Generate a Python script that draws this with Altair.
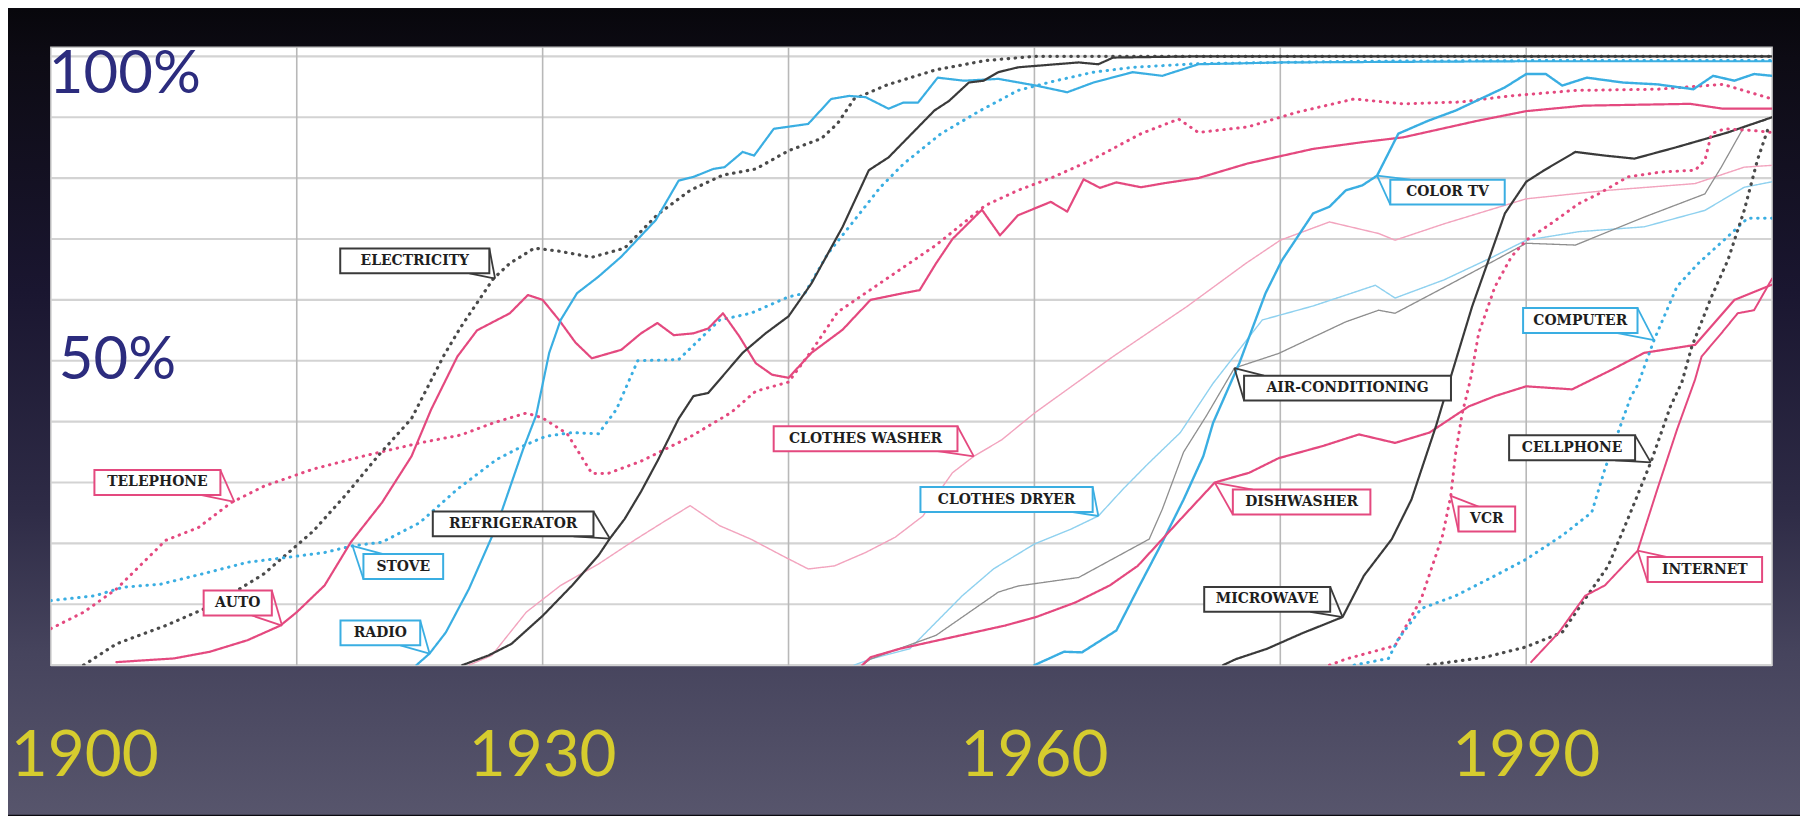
import altair as alt
import pandas as pd

# ---------------- data (year, % of households) ----------------
ELECTRICITY = [(1902, 0), (1904, 3.5), (1907, 6.5), (1910, 10), (1913, 15), (1916, 22), (1918, 28),
               (1920, 34.5), (1922, 40.5), (1924, 51), (1925, 55.5), (1927, 63.5), (1928, 66),
               (1929.5, 68.5), (1931, 68), (1933, 67), (1935, 68.5), (1937, 74), (1939, 78),
               (1941, 80.5), (1943, 81.5), (1945, 84.5), (1947, 86.5), (1948, 89), (1949, 93),
               (1951, 95.3), (1954, 97.8), (1957, 99.3), (1960, 100), (1975, 100), (1990, 100), (2005, 100)]
TELEPHONE = [(1900, 6), (1902, 8.7), (1904, 12.5), (1907, 20.5), (1909, 22.6), (1911, 26.7), (1913, 29.4),
             (1916, 32.2), (1919, 34.3), (1922.5, 36.5), (1925, 37.8), (1927, 39.8), (1929, 41.4),
             (1930, 40.6), (1931.5, 38), (1933, 31.5), (1934, 31.5), (1936, 33.5), (1939, 37.5),
             (1941.5, 41.5), (1943, 45), (1945, 46.5), (1946.5, 52), (1948, 58), (1951, 63.5),
             (1954, 69), (1957, 75.5), (1959, 78), (1961, 80), (1963.5, 83), (1966.5, 87.3),
             (1968.8, 89.7), (1970, 87.5), (1973, 88.4), (1976, 90.8), (1979.5, 93), (1982.5, 92.2),
             (1986, 92.5), (1989, 93.5), (1993, 94.4), (1998, 94.6), (2002, 95.4), (2005, 93)]
AUTO = [(1904, 0.5), (1907.5, 1.1), (1909.7, 2.2), (1912, 4.1), (1914, 6.5), (1915, 8.7), (1916.7, 13.1),
        (1918.3, 20.2), (1920.2, 26.7), (1922, 34.3), (1923.2, 42), (1924.8, 50.7), (1926, 55),
        (1928, 57.8), (1929.1, 60.8), (1930, 60), (1931, 56.7), (1932, 53), (1933, 50.4),
        (1934.8, 51.8), (1936, 54.5), (1937, 56.2), (1938, 54.2), (1939.2, 54.5), (1940.1, 55.3),
        (1941, 57.8), (1942, 54), (1943, 49.6), (1944, 47.7), (1945, 47.2), (1946.4, 51.3),
        (1948.3, 55.1), (1950, 60), (1952, 61.1), (1953, 61.6), (1954, 66), (1955, 70),
        (1956.8, 74.8), (1957.9, 70.6), (1959, 73.9), (1960, 75), (1961, 76.1), (1962, 74.5),
        (1963, 79.8), (1964, 78.4), (1965, 79.3), (1966.5, 78.5), (1968, 79.2), (1970, 80),
        (1973, 82.4), (1977, 84.8), (1980, 85.9), (1982.5, 86.7), (1987, 89.4), (1990, 91),
        (1993.5, 91.9), (2000, 92.2), (2002, 91.4), (2005, 91.4)]
STOVE = [(1900, 10.6), (1902.7, 11.4), (1904.4, 12.8), (1906.7, 13.3), (1909.7, 15.3), (1912, 16.9),
         (1914.4, 17.7), (1916.7, 18.5), (1918.4, 19.6), (1920.2, 20.2), (1922.5, 23.4), (1924.8, 28.9),
         (1927.2, 33.8), (1928.8, 36), (1930.2, 37.6), (1931.8, 38.2), (1933.4, 38), (1934.5, 42),
         (1935.8, 50), (1938.3, 50.2), (1940.8, 56.7), (1942.7, 57.8), (1945, 60.5), (1946, 61.1),
         (1947.4, 67.6), (1948.7, 72), (1950.6, 78.5), (1952, 82.3), (1954.3, 87.3), (1956.7, 91.1),
         (1959, 94.4), (1961.3, 96), (1963.6, 97.4), (1966, 98.2), (1970, 98.8), (1980, 99.2),
         (1990, 99.3), (2005, 99.3)]
RADIO = [(1922.3, 0), (1923.1, 1.9), (1924.1, 5.4), (1925.5, 12.5), (1927.2, 22.9), (1928.8, 35.4),
         (1929.6, 41), (1930.4, 51.3), (1931.1, 56.7), (1932.1, 61.1), (1933.4, 63.8), (1934.8, 67.1),
         (1936.9, 73.1), (1938.3, 79.6), (1939.2, 80.2), (1940.4, 81.5), (1941.1, 81.8), (1942.2, 84.3),
         (1942.9, 83.7), (1944.1, 88.1), (1946.2, 88.9), (1947.6, 93), (1948.7, 93.5), (1949.7, 93.3),
         (1951.1, 91.4), (1952, 92.4), (1952.9, 92.4), (1954.1, 96.5), (1955.7, 96), (1957.8, 96.3),
         (1960.1, 95.2), (1962, 94.1), (1963.6, 95.7), (1966, 97.4), (1967.8, 96.8), (1970, 98.7),
         (1975, 99), (1990, 99.2), (2005, 99.2)]
REFRIGERATOR = [(1925.1, 0), (1926.7, 1.6), (1928.1, 3.5), (1930, 8.1), (1931.8, 13.1), (1933.4, 18),
                (1934.1, 20.8), (1935, 24), (1936, 28.5), (1937, 33.5), (1938.3, 40.5), (1939.2, 44.2),
                (1940.1, 44.7), (1942.2, 51.3), (1943.6, 54.5), (1945, 57.3), (1946.4, 62.7), (1948.3, 72),
                (1949.9, 81.3), (1951.1, 83.4), (1952.7, 87.8), (1953.9, 91.1), (1954.8, 92.7), (1956, 95.7),
                (1956.9, 96), (1957.8, 97.4), (1959, 98.2), (1961.3, 98.7), (1962.7, 99), (1963.9, 98.7),
                (1964.8, 99.8), (1970, 100), (2005, 100)]
CLOTHES_WASHER = [(1925.5, 0), (1926.9, 1.6), (1929, 8.7), (1931.1, 13.1), (1933.4, 16.6), (1935.7, 20.7),
                  (1937.3, 23.4), (1939, 26.2), (1940.8, 22.9), (1942.7, 20.7), (1944.6, 18), (1946.2, 15.8),
                  (1947.8, 16.3), (1949.7, 18.5), (1951.5, 21), (1953.2, 24.5), (1954, 27.8), (1955, 31.6),
                  (1956.3, 34.3), (1958, 37), (1960, 41.4), (1964.8, 50.7), (1969.3, 58.9), (1972.9, 66),
                  (1975, 69.8), (1978, 72.8), (1981, 70.9), (1982, 69.8), (1985, 72.5), (1990, 76.6),
                  (1995, 78), (2000.3, 79.1), (2003.3, 81.8), (2005, 82.1)]
CLOTHES_DRYER = [(1949, 0), (1950, 1), (1952.4, 2.7), (1955.6, 11.4), (1957.5, 15.8), (1960, 19.9),
                 (1962.2, 22.3), (1963.9, 24.5), (1965.4, 28.9), (1966.9, 33), (1968.9, 38.2),
                 (1970.9, 46.3), (1973.9, 56.7), (1977, 59), (1980.8, 62.4), (1982, 60.3), (1985, 63.3),
                 (1988, 67.1), (1990, 69.8), (1993.2, 71.2), (1997.2, 72), (2000.9, 74.7), (2003.3, 78.5),
                 (2005, 79.4)]
AIR_CONDITIONING = [(1949.5, 0), (1950, 1), (1954, 4.9), (1957.8, 12), (1959, 13), (1962.7, 14.4),
                    (1967, 20.7), (1967.8, 25.6), (1969.1, 35), (1970.5, 41), (1972.2, 48.8), (1974.9, 51.2),
                    (1979, 56.4), (1981, 58.3), (1982, 57.8), (1985.1, 62.2), (1988.1, 66.5), (1990, 69.3),
                    (1993, 69), (1997.2, 73.6), (2000.9, 77.4), (2001.9, 81.8), (2003.3, 88.5), (2004.6, 89.5)]
COLOR_TV = [(1960, 0), (1961.8, 2.2), (1962.9, 2.1), (1965, 5.7), (1966.3, 12.5), (1967.8, 20.2),
            (1969.1, 27.2), (1970.3, 34.3), (1970.9, 39.8), (1972.5, 49.6), (1974.1, 61.1), (1975.1, 66.5),
            (1977, 74.2), (1978, 75.3), (1979, 78), (1980, 78.8), (1980.9, 80.4), (1982.2, 87.3),
            (1984, 89.4), (1985.7, 91.1), (1988.7, 94.9), (1990, 97.1), (1991.2, 97.1), (1992.2, 95.2),
            (1993.7, 96.5), (1995.9, 95.7), (1998, 95.4), (2000.2, 94.6), (2001.4, 96.8), (2002.7, 96),
            (2003.9, 97.1), (2005, 96.8)]
DISHWASHER = [(1949.5, 0), (1950, 1.3), (1951.8, 2.7), (1955, 4.6), (1958.2, 6.5), (1960.1, 7.9),
              (1962.5, 10.3), (1964.6, 13.1), (1966.3, 16.3), (1967.8, 20.7), (1969.1, 24.5), (1971, 30),
              (1973.1, 31.6), (1974.9, 34), (1977.6, 36), (1979.8, 37.9), (1982, 36.5), (1984.1, 38.2),
              (1986.5, 42.5), (1988.1, 44.2), (1990, 45.8), (1992.8, 45.3), (1995.2, 48.5), (1997.2, 51.3),
              (2000.3, 52.6), (2002.7, 60), (2005, 62.5)]
MICROWAVE = [(1971.5, 0), (1972.3, 1), (1974.2, 2.7), (1976.3, 5.2), (1978.8, 7.9), (1980.1, 14.7),
             (1981.8, 20.7), (1983, 27.2), (1984.5, 39.3), (1985.1, 44.7), (1986.7, 58.9), (1987.7, 66.5),
             (1988.7, 74.2), (1990, 79.4), (1991.1, 81.3), (1993, 84.3), (1994.8, 83.7), (1996.6, 83.2),
             (1999.2, 85.1), (2002.3, 87.5), (2005, 90)]
VCR = [(1978, 0), (1979, 1), (1982, 3.2), (1983.6, 10.9), (1984.9, 21.3), (1985.4, 27.8), (1985.7, 34.9),
       (1986.1, 41.4), (1986.6, 46.9), (1987.1, 54.5), (1988.1, 62.2), (1989.1, 67.1), (1990, 69.8),
       (1991.5, 72.5), (1993.2, 75.8), (1994.4, 77.4), (1996.2, 80.2), (1998.2, 81), (2000.3, 81.3),
       (2000.9, 82.9), (2001.3, 87.3), (2002.1, 88.1), (2003.9, 87.8), (2005, 87.5)]
COMPUTER = [(1979.5, 0), (1981.6, 1.1), (1982.2, 4.3), (1983.6, 9.3), (1985.7, 11.4), (1988.1, 14.7),
            (1990, 17.4), (1992.2, 21.3), (1994, 25.1), (1994.8, 32.2), (1995.6, 38.2), (1996.4, 44.2),
            (1996.8, 46), (1997.8, 53.4), (1999.2, 62.2), (2000.5, 66), (2002.3, 70.4), (2003.5, 73.4),
            (2005, 73.4)]
CELLPHONE = [(1984, 0), (1987.5, 1.3), (1990, 3), (1992.2, 5.4), (1993.6, 10.9), (1995, 16.3),
             (1996.2, 24), (1997.6, 33.3), (1998.8, 42.5), (1999.5, 46.5), (2000.1, 52.3), (2001.3, 60.5),
             (2002.3, 66.5), (2003.3, 74.7), (2004.1, 82.9), (2004.8, 88.5)]
INTERNET = [(1990.3, 0.5), (1992, 5.4), (1993.6, 11.4), (1994.8, 13.1), (1996.8, 18.8), (1998, 28.9),
            (1999.2, 38.7), (2000.3, 46.9), (2000.7, 50.7), (2001.9, 54.5), (2002.9, 57.8), (2003.9, 58.3),
            (2005, 63.5)]

# tick values and tick labels
X_LABEL_YEARS = [1900, 1930, 1960, 1990]
V_GRID = [1915, 1930, 1945, 1960, 1975, 1990]
H_GRID = [0, 10, 20, 30, 40, 50, 60, 70, 80, 90, 100]
Y_LABELS = [100, 50]
Y_LABEL_TEXT = ["100%", "50%"]

# callout labels (text, box centre, point on the curve)
LABEL_TEXT = ["ELECTRICITY", "TELEPHONE", "AUTO", "STOVE", "RADIO", "REFRIGERATOR", "CLOTHES WASHER",
              "CLOTHES DRYER", "AIR-CONDITIONING", "COLOR TV", "COMPUTER", "DISHWASHER", "VCR",
              "CELLPHONE", "MICROWAVE", "INTERNET"]
LABEL_X = [1922.2, 1906.5, 1911.4, 1921.5, 1920.1, 1928.2, 1949.7, 1958.3, 1979.1, 1985.2, 1993.3,
           1976.3, 1987.6, 1992.8, 1974.2, 2000.9]
LABEL_Y = [66.4, 30.0, 10.2, 16.2, 5.3, 23.2, 37.2, 27.2, 45.5, 77.7, 56.6, 26.8, 24.0, 35.7, 10.8, 15.7]
ANCHOR_X = [1927.1, 1911.2, 1914.1, 1918.4, 1923.1, 1934.1, 1956.3, 1963.9, 1972.2, 1980.9, 1997.8,
            1971.0, 1985.4, 1997.6, 1978.8, 1996.8]
ANCHOR_Y = [63.5, 26.8, 6.5, 19.6, 1.9, 20.8, 34.3, 24.5, 48.8, 80.4, 53.4, 30.0, 27.8, 33.3, 7.9, 18.8]

# ---------------- styles / layout ----------------
PINK, BLUE, BLACK = "#e4497f", "#3aaee2", "#3a3a3a"
LPINK, LBLUE, GRAY = "#f2a4be", "#8fd1ef", "#8e8e8e"
SOLID, DOT = [1, 0], [0.5, 6.5]

SERIES = [
    ("Telephone", TELEPHONE, PINK, DOT, 3.0),
    ("Electricity", ELECTRICITY, "#4a4a4a", DOT, 3.2),
    ("Stove", STOVE, BLUE, DOT, 3.0),
    ("Clothes washer", CLOTHES_WASHER, LPINK, SOLID, 1.4),
    ("Clothes dryer", CLOTHES_DRYER, LBLUE, SOLID, 1.4),
    ("Air-conditioning", AIR_CONDITIONING, GRAY, SOLID, 1.3),
    ("Auto", AUTO, PINK, SOLID, 2.2),
    ("Radio", RADIO, BLUE, SOLID, 2.2),
    ("Refrigerator", REFRIGERATOR, BLACK, SOLID, 2.2),
    ("Color TV", COLOR_TV, BLUE, SOLID, 2.4),
    ("Dishwasher", DISHWASHER, PINK, SOLID, 2.2),
    ("Microwave", MICROWAVE, BLACK, SOLID, 2.2),
    ("VCR", VCR, PINK, DOT, 3.0),
    ("Computer", COMPUTER, BLUE, DOT, 3.0),
    ("Cellphone", CELLPHONE, "#4a4a4a", DOT, 3.2),
    ("Internet", INTERNET, PINK, SOLID, 2.0),
]
LABEL_COLORS = [BLACK, PINK, PINK, BLUE, BLUE, BLACK, PINK, BLUE, BLACK, BLUE, BLUE, PINK, PINK,
                BLACK, BLACK, PINK]

X0, X1 = 1900, 2005
Y0, Y1 = 0, 101.5
W, H = 1727, 620
PAD = {"left": 43, "top": 38, "right": 28, "bottom": 150}
PXY = W / (X1 - X0)   # px per year
PPP = H / (Y1 - Y0)   # px per percent

NUM_FONT = "Lato, DejaVu Sans Condensed, sans-serif"
YEAR_COLOR = "#d6cc2e"
PCT_COLOR = "#2c2c7e"

xs = alt.Scale(domain=[X0, X1], nice=False, zero=False)
ys = alt.Scale(domain=[Y0, Y1], nice=False, zero=False)
one = pd.DataFrame({"a": [0]})

layers = []

# page background gradient
grad = alt.LinearGradient(
    gradient="linear", x1=0, x2=0, y1=0, y2=1,
    stops=[alt.GradientStop(color="#08070c", offset=0),
           alt.GradientStop(color="#0d0b14", offset=0.06),
           alt.GradientStop(color="#1a1630", offset=0.35),
           alt.GradientStop(color="#2e2b46", offset=0.62),
           alt.GradientStop(color="#46445d", offset=0.8),
           alt.GradientStop(color="#57556c", offset=1)])
layers.append(alt.Chart(one).mark_rect(fill=grad).encode(
    x=alt.value(-PAD["left"]), x2=alt.value(W + PAD["right"]),
    y=alt.value(-PAD["top"]), y2=alt.value(H + PAD["bottom"])))

# white plot panel
layers.append(alt.Chart(one).mark_rect(fill="white", stroke="#c8c8c8", strokeWidth=1.5).encode(
    x=alt.value(0), x2=alt.value(W), y=alt.value(0), y2=alt.value(H)))

# grid
layers.append(alt.Chart(pd.DataFrame({"v": H_GRID})).mark_rule(color="#d3d3d3", strokeWidth=2.2).encode(
    y=alt.Y("v:Q", scale=ys, axis=None)))
layers.append(alt.Chart(pd.DataFrame({"yr": V_GRID})).mark_rule(color="#b8b8b8", strokeWidth=1.6).encode(
    x=alt.X("yr:Q", scale=xs, axis=None)))

# series
for name, pts, col, dash, w in SERIES:
    df = pd.DataFrame(pts, columns=["year", "pct"])
    df["series"] = name
    layers.append(alt.Chart(df).mark_line(color=col, strokeDash=dash, strokeWidth=w, strokeCap="round",
                                          strokeJoin="round", clip=True).encode(
        x=alt.X("year:Q", scale=xs, axis=None),
        y=alt.Y("pct:Q", scale=ys, axis=None)))

# callouts
lab = pd.DataFrame({"text": LABEL_TEXT, "cx": LABEL_X, "cy": LABEL_Y, "ax": ANCHOR_X, "ay": ANCHOR_Y})
lab_base = alt.Chart(lab).transform_calculate(
    hw=f"(11.6*length(datum.text) + 22) / 2 / {PXY}",
    hh=f"12.5 / {PPP}",
    sx="datum.ax > datum.cx ? 1 : -1",
    sy="datum.ay > datum.cy ? 1 : -1",
).transform_calculate(
    bx1="datum.cx - datum.hw", bx2="datum.cx + datum.hw",
    by1="datum.cy - datum.hh", by2="datum.cy + datum.hh",
    pax="datum.cx + datum.sx * datum.hw", pay="datum.cy - datum.sy * datum.hh",
    pbx=f"datum.cx + datum.sx * (datum.hw - 20 / {PXY})", pby="datum.cy + datum.sy * datum.hh",
)
lstroke = alt.Stroke("text:N", scale=alt.Scale(domain=LABEL_TEXT, range=LABEL_COLORS), legend=None)

layers.append(lab_base.mark_rule(strokeWidth=1.8).encode(
    x=alt.X("pax:Q", scale=xs, axis=None), y=alt.Y("pay:Q", scale=ys, axis=None),
    x2="ax:Q", y2="ay:Q", stroke=lstroke))
layers.append(lab_base.mark_rule(strokeWidth=1.8).encode(
    x=alt.X("pbx:Q", scale=xs, axis=None), y=alt.Y("pby:Q", scale=ys, axis=None),
    x2="ax:Q", y2="ay:Q", stroke=lstroke))
layers.append(lab_base.mark_rect(fill="white", strokeWidth=2).encode(
    x=alt.X("bx1:Q", scale=xs, axis=None), x2="bx2:Q",
    y=alt.Y("by1:Q", scale=ys, axis=None), y2="by2:Q", stroke=lstroke))
layers.append(lab_base.mark_text(font="DejaVu Serif", fontWeight="bold", fontSize=14, color="#1e1e1e",
                                 baseline="middle", align="center").encode(
    x=alt.X("cx:Q", scale=xs, axis=None), y=alt.Y("cy:Q", scale=ys, axis=None), text="text:N"))

# tick labels: years (below the panel) and percentages (inside the panel)
years = pd.DataFrame({"yr": X_LABEL_YEARS, "t": [str(v) for v in X_LABEL_YEARS]})
layers.append(alt.Chart(years).transform_filter("datum.yr == 1900").mark_text(
    font=NUM_FONT, fontSize=64, color=YEAR_COLOR, baseline="middle", align="center", dx=34).encode(
    x=alt.X("yr:Q", scale=xs, axis=None), y=alt.value(H + 92), text="t:N"))
layers.append(alt.Chart(years).transform_filter("datum.yr != 1900").mark_text(
    font=NUM_FONT, fontSize=64, color=YEAR_COLOR, baseline="middle", align="center").encode(
    x=alt.X("yr:Q", scale=xs, axis=None), y=alt.value(H + 92), text="t:N"))

pcts = pd.DataFrame({"v": Y_LABELS, "t": Y_LABEL_TEXT})
layers.append(alt.Chart(pcts).transform_filter("datum.v == 100").mark_text(
    font=NUM_FONT, fontSize=60, color=PCT_COLOR, baseline="middle", align="left", dy=19).encode(
    x=alt.value(-2), y=alt.Y("v:Q", scale=ys, axis=None), text="t:N"))
layers.append(alt.Chart(pcts).transform_filter("datum.v != 100").mark_text(
    font=NUM_FONT, fontSize=60, color=PCT_COLOR, baseline="middle", align="left").encode(
    x=alt.value(8), y=alt.Y("v:Q", scale=ys, axis=None), text="t:N"))

chart = alt.layer(*layers).properties(
    width=W, height=H, padding=PAD,
    autosize=alt.AutoSizeParams(type="none"),
    background="#0b0a10",
).configure_view(stroke=None)

chart.save("out.html", embed_options={"renderer": "svg", "actions": False})
